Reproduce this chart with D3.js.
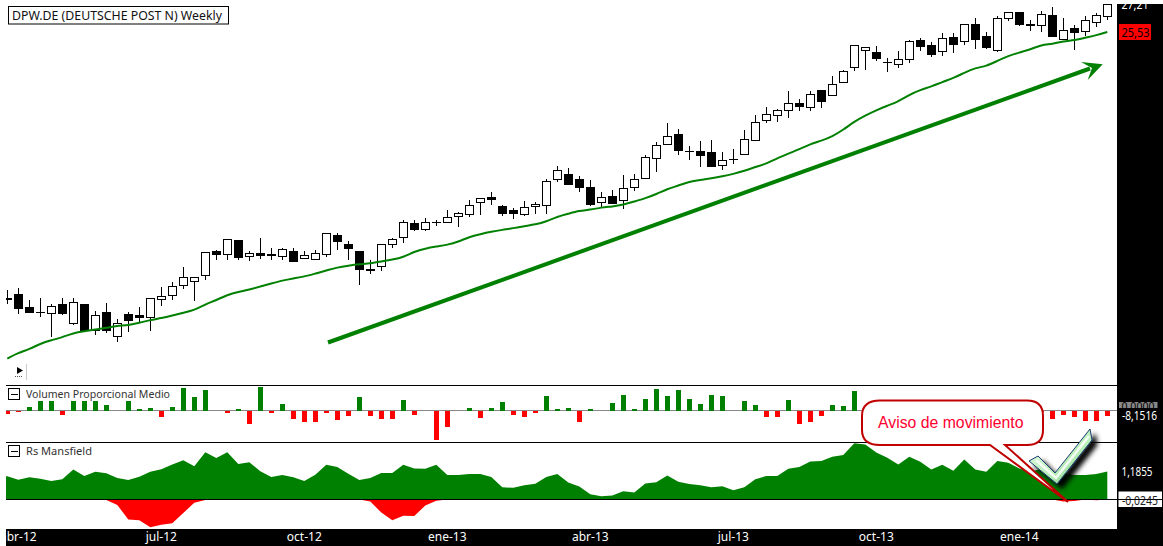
<!DOCTYPE html>
<html><head><meta charset="utf-8">
<script src="https://cdn.jsdelivr.net/npm/d3@7"></script>
<style>html,body{margin:0;padding:0;background:#fff}svg{display:block}text{font-family:"Noto Sans","DejaVu Sans",sans-serif}</style>
</head><body><svg id="c" width="1163" height="546"></svg>
<script>
const opens=[13.82,13.95,13.54,13.41,13.35,13.63,13.07,13.63,12.84,13.39,12.67,13.33,13.30,13.25,13.79,13.92,14.27,14.37,14.60,15.40,15.30,15.79,15.25,15.34,15.30,15.25,15.43,15.15,15.14,15.30,16.00,15.68,15.40,14.80,14.90,15.68,15.90,16.42,16.23,16.48,16.49,16.72,16.80,17.27,17.44,17.11,16.93,16.79,17.10,17.14,18.17,18.38,18.17,17.87,17.25,17.51,17.35,17.86,18.25,19.10,19.73,20.19,19.41,19.41,19.37,18.80,19.06,19.28,19.90,20.85,21.09,21.33,21.64,21.48,22.30,22.07,22.75,23.52,24.48,24.37,23.81,23.70,23.98,25.05,24.77,24.43,25.23,24.99,25.98,25.29,24.48,26.34,26.72,25.95,25.92,26.53,25.11,25.74,25.57,26.10,26.46];
const closes=[13.82,13.53,13.41,13.41,13.57,13.35,13.70,12.84,13.30,12.84,13.07,13.16,13.25,13.82,13.89,14.23,14.52,14.52,15.36,15.32,15.83,15.21,15.33,15.28,15.30,15.47,15.06,15.26,15.33,16.08,15.77,15.53,14.79,14.76,15.68,15.85,16.46,16.21,16.49,16.48,16.68,16.82,17.14,17.43,17.37,16.82,16.82,17.07,17.19,18.12,18.55,17.98,17.86,17.16,17.47,17.22,17.83,18.17,19.15,19.68,20.10,19.44,19.41,19.22,18.74,19.02,19.06,19.96,20.75,21.13,21.33,21.67,21.51,22.13,21.75,22.65,23.33,24.77,24.66,24.01,23.81,23.98,24.99,24.71,24.26,25.17,24.80,25.98,25.11,24.63,26.34,26.72,25.98,25.95,26.59,25.29,25.63,25.51,26.22,26.53,27.21];
const highs=[14.10,14.18,13.80,13.85,13.67,13.86,13.86,13.67,13.43,13.68,13.21,13.41,13.58,13.82,14.21,14.37,14.87,14.53,15.40,15.47,15.87,15.79,15.43,15.91,15.54,15.55,15.54,15.43,15.47,16.08,16.09,15.79,15.40,15.12,15.68,15.91,16.58,16.58,16.64,16.58,16.97,16.86,17.36,17.43,17.68,17.15,17.02,17.32,17.27,18.21,18.76,18.69,18.35,18.17,17.68,17.76,18.38,18.42,19.24,19.82,20.71,20.42,19.64,19.87,19.93,19.37,19.52,20.38,21.10,21.48,21.38,22.30,21.89,22.28,22.30,23.06,23.40,24.77,24.66,24.73,24.05,24.43,25.05,25.20,24.94,25.46,25.46,26.03,26.34,25.52,26.46,26.72,26.72,26.22,26.80,27.04,26.34,25.92,26.46,26.65,27.21];
const lows=[13.67,13.34,13.38,13.25,12.66,13.31,13.03,12.84,12.72,12.77,12.51,12.80,13.10,12.83,13.59,13.78,14.13,13.75,14.43,15.11,15.13,15.11,15.07,15.14,15.11,15.11,15.06,15.14,15.11,15.21,15.45,15.13,14.26,14.62,14.73,15.53,15.70,16.17,16.17,16.33,16.48,16.29,16.67,16.77,17.14,16.73,16.59,16.72,16.81,16.81,18.07,17.98,17.68,17.12,17.05,17.18,16.98,17.73,18.21,18.52,19.71,19.22,19.00,18.70,18.74,18.57,18.83,19.26,19.85,20.69,20.78,20.97,21.27,21.31,21.46,22.05,22.70,23.36,23.42,23.90,23.31,23.52,23.79,24.44,24.13,24.18,24.35,24.79,24.57,24.57,24.37,26.20,25.86,25.61,25.55,25.23,25.05,24.52,25.28,25.83,26.24];
const movingAvg=[12.05,12.21,12.31,12.47,12.57,12.65,12.78,12.83,12.88,12.93,12.99,13.01,13.08,13.17,13.22,13.30,13.39,13.47,13.65,13.78,13.95,14.05,14.12,14.22,14.32,14.42,14.49,14.55,14.65,14.75,14.86,14.92,14.97,14.99,15.06,15.13,15.21,15.41,15.52,15.59,15.65,15.76,15.94,16.04,16.13,16.20,16.26,16.34,16.40,16.51,16.70,16.81,16.93,16.96,17.06,17.09,17.16,17.29,17.42,17.58,17.80,17.93,18.10,18.17,18.24,18.32,18.42,18.55,18.72,18.86,19.10,19.30,19.50,19.73,19.88,20.08,20.39,20.78,21.07,21.33,21.55,21.76,22.10,22.35,22.52,22.76,22.96,23.25,23.51,23.60,23.89,24.17,24.35,24.52,24.79,24.83,25.00,25.05,25.20,25.34,25.53];
const volume=[-4,-2,5,14,14,-5.6,14,14,14,8.2,0,14,2,3.6,-8.7,5,34,20.4,31,0,-2.5,2,-19.4,35.7,-2.5,9.7,-11.7,-16.3,-16.3,-2.5,-13.3,-7.1,20.4,-7.1,-11.7,-11.7,15.8,-5.6,0,-43.9,-24,0,3.6,-10.2,3.6,12.8,-5.6,-8.7,-2.5,21.9,2,3.6,-16.3,2,0,11.2,23.5,2,17.3,32.6,21.9,31.1,17.3,9.7,23.5,21.9,0,14.3,8.2,-8.7,-8.7,15.8,-19.4,-16.3,-7.1,8.2,6.6,29.6,2,2,-2,-2,2,2,-2,-2,2,-2,2,2,-2,-2,2,2,-2,-11.7,-5.6,-8.7,-14.8,-14.8,-8.15];
const rsPositive=[.98,.84,.94,.88,.78,.86,1.27,.99,1.17,1.11,.91,.82,.96,1.18,1.28,1.48,1.66,1.41,2.00,1.76,2.00,1.50,1.58,1.20,.95,1.04,.94,.78,1.05,1.47,1.38,1.09,.82,.91,1.12,1.12,1.47,1.31,1.30,1.47,1.04,1.04,1.08,1.08,.95,.52,.49,.60,.66,.95,1.08,.72,.55,.22,.13,.17,.35,.29,.68,.73,1.02,.75,.65,.60,.52,.56,.39,.52,.86,.99,.99,1.30,1.38,1.61,1.63,1.81,1.89,2.39,2.33,1.99,1.77,1.48,1.81,1.60,1.27,1.47,1.22,1.70,1.27,1.17,1.63,1.56,1.31,1.17,1.30,1.08,1.12,1.04,1.04,1.08,1.1855];
const rsNegative=[0,0,0,0,0,0,0,0,0,-.03,-.24,-.85,-.89,-1.18,-1.08,-1.01,-.58,-.14,-.03,0,0,0,0,0,0,0,0,0,0,0,0,0,0,-.09,-.56,-.89,-.69,-.71,-.26,-.06,0,0,0,0,0,0,0,0,0,0,0,0,0,0,0,0,0,0,0,0,0,0,0,0,0,0,0,0,0,0,0,0,0,0,0,0,0,0,0,0,0,0,0,0,0,0,0,0,0,0,0,0,0,0,0,0,-.09,-.07,0,-.04,0];
const timeLabels=["abr-12","jul-12","oct-12","ene-13","abr-13","jul-13","oct-13","ene-14"];
const timeLabelBars=[1,14,27,40,53,66,79,92];
const title="DPW.DE (DEUTSCHE POST N) Weekly";

const svg=d3.select("#c");
const plotL=6,plotR=1117;
const ids=opens.map((_,i)=>i);
const x=d3.scaleLinear().domain([0,100]).range([7.3,1107.3]);
const yP=d3.scaleLog().domain([11.47,27.48]).range([380,0]);
const yV=d3.scaleLinear().domain([-8.1516,0]).range([415.9,410.5]);
const yR=d3.scaleLinear().domain([0,1.1855]).range([499.4,471.5]);
const green="#008000",red="#ff0000";
const defs=svg.append("defs");
defs.append("clipPath").attr("id","pc").append("rect").attr("x",plotL).attr("y",0).attr("width",plotR-plotL).attr("height",530);
defs.append("clipPath").attr("id","tc").append("rect").attr("x",plotL).attr("y",529).attr("width",1157).attr("height",17);
const shadow=defs.append("filter").attr("id","sh").attr("x","-30%").attr("y","-30%").attr("width","170%").attr("height","170%");
shadow.append("feGaussianBlur").attr("in","SourceAlpha").attr("stdDeviation",2.5).attr("result","b");
shadow.append("feOffset").attr("in","b").attr("dx",5).attr("dy",5).attr("result","o");
const fm=shadow.append("feMerge");fm.append("feMergeNode").attr("in","o");fm.append("feMergeNode").attr("in","SourceGraphic");
const cg=defs.append("linearGradient").attr("id","chk").attr("x1",0).attr("y1",0).attr("x2",1).attr("y2",1);
cg.append("stop").attr("offset",0).attr("stop-color","#e8fbe8");
cg.append("stop").attr("offset",.6).attr("stop-color","#b8eeb8");
cg.append("stop").attr("offset",1).attr("stop-color","#5cb868");

// frame panels
svg.append("rect").attr("x",plotR).attr("y",4).attr("width",46).attr("height",542).attr("fill","#000");
svg.append("rect").attr("x",plotL).attr("y",529).attr("width",1157).attr("height",17).attr("fill","#000");

const plot=svg.append("g").attr("clip-path","url(#pc)");
// candles
const c=plot.append("g").selectAll("g").data(ids).join("g").attr("shape-rendering","crispEdges");
c.append("line").attr("x1",i=>Math.round(x(i))+.5).attr("x2",i=>Math.round(x(i))+.5)
 .attr("y1",i=>yP(highs[i])).attr("y2",i=>yP(lows[i])).attr("stroke","#000").attr("stroke-width",1.4);
c.append("rect").attr("x",i=>Math.round(x(i))-3.5).attr("width",8)
 .attr("y",i=>yP(Math.max(opens[i],closes[i])))
 .attr("height",i=>Math.max(.6,Math.abs(yP(opens[i])-yP(closes[i]))))
 .attr("fill",i=>closes[i]<opens[i]?"#000":"#fff").attr("stroke","#000").attr("stroke-width",1);
// moving average
plot.append("path").datum(ids).attr("fill","none").attr("stroke",green).attr("stroke-width",2)
 .attr("d",d3.line().curve(d3.curveBasis).x(i=>x(i)).y(i=>yP(movingAvg[i])));

// panes
svg.append("rect").attr("x",plotL).attr("y",385).attr("width",plotR-plotL).attr("height",1).attr("fill","#000");
svg.append("rect").attr("x",plotL).attr("y",442).attr("width",plotR-plotL).attr("height",1).attr("fill","#000");
plot.append("rect").attr("x",plotL).attr("y",410).attr("width",plotR-plotL).attr("height",1).attr("fill","#888");
plot.append("g").selectAll("rect").data(ids.filter(i=>volume[i]!==0)).join("rect")
 .attr("x",i=>x(i)-2).attr("width",5)
 .attr("y",i=>volume[i]>0?yV(volume[i]):yV(0)+.5)
 .attr("height",i=>Math.abs(yV(volume[i])-yV(0)))
 .attr("fill",i=>volume[i]>0?green:red).attr("shape-rendering","crispEdges");
// Mansfield areas
plot.append("path").datum([0,...ids]).attr("fill",green).attr("d",d3.area().x((i,k)=>k===0?plotL:x(i)).y0(yR(0)).y1(i=>yR(rsPositive[i])));
plot.append("path").datum(ids).attr("fill",red).attr("d",d3.area().x(i=>x(i)).y0(yR(0)).y1(i=>yR(rsNegative[i])));

// time axis
const tA=svg.append("g").attr("fill","#fff").attr("font-size",12).attr("clip-path","url(#tc)");
tA.selectAll("text").data(timeLabels).join("text").attr("x",(d,k)=>x(timeLabelBars[k])).attr("y",541).attr("text-anchor","middle").text(d=>d);

// title
svg.append("rect").attr("x",8.5).attr("y",6.5).attr("width",220).attr("height",17.5).attr("fill","#fff").attr("stroke","#000");
svg.append("text").attr("x",12).attr("y",19.5).attr("font-size",12).attr("fill","#111").attr("textLength",210).attr("lengthAdjust","spacingAndGlyphs").text(title);

// pane headers
function hdr(y,t,w){
 svg.append("rect").attr("x",8.5).attr("y",y+.5).attr("width",11).attr("height",11).attr("fill","#fff").attr("stroke","#000");
 svg.append("line").attr("x1",11).attr("x2",18).attr("y1",y+6.5).attr("y2",y+6.5).attr("stroke","#000");
 svg.append("text").attr("x",26).attr("y",y+10).attr("font-size",11.5).attr("fill","#333").attr("textLength",w).attr("lengthAdjust","spacingAndGlyphs").text(t);
}
hdr(388,"Volumen Proporcional Medio",144);hdr(445,"Rs Mansfield",66);

// small play marker
svg.append("path").attr("d","M17 367 L23 370.5 L17 374 Z").attr("fill","#000");
svg.append("line").attr("x1",15).attr("x2",23).attr("y1",376.5).attr("y2",376.5).attr("stroke","#555").attr("stroke-dasharray","1 1");
svg.append("line").attr("x1",26.5).attr("x2",26.5).attr("y1",364).attr("y2",380).attr("stroke","#ccc");

// big trend arrow
svg.append("line").attr("x1",328).attr("y1",342.5).attr("x2",1090).attr("y2",68.5).attr("stroke",green).attr("stroke-width",4);
svg.append("path").attr("d","M1081 62 L1102.7 64.3 L1087.7 80 L1092 68 Z").attr("fill",green);

// zero line runs into the right panel, under the value box
const R=svg.append("g").attr("font-size",12);
function lab(t,yy,fill,w){R.append("text").attr("x",t[0]==="-"?1122:1121.5).attr("y",yy).attr("fill",fill).attr("textLength",w).attr("lengthAdjust","spacingAndGlyphs").text(t);}
lab("27,21",8.5,"#fff",27);
svg.append("rect").attr("x",1117).attr("y",0).attr("width",46).attr("height",4).attr("fill","#fff");
R.append("rect").attr("x",1119).attr("y",24).attr("width",32).attr("height",16).attr("fill",red);
lab("25,53",36.5,"#000",28);
R.append("rect").attr("x",1119).attr("y",402).attr("width",38.5).attr("height",6).attr("fill","#888");
lab("0,0000",411,"#000",33);
lab("-8,1516",420,"#fff",35);
lab("1,1855",475.5,"#fff",31);
R.append("rect").attr("x",1118.5).attr("y",491.5).attr("width",43.5).attr("height",15.5).attr("fill","#fff");
lab("-0,0245",504.5,"#222",36);
svg.append("line").attr("x1",plotL).attr("x2",1162).attr("y1",499.5).attr("y2",499.5).attr("stroke","#000");

// callout
svg.append("path").attr("d","M880 400.5 H1027 Q1043 400.5 1043 416 V430 Q1043 445 1027 445 H1005 L1068 502 L990 445 H880 Q862 445 862 430 V416 Q862 400.5 880 400.5 Z")
 .attr("fill","#fff").attr("stroke","#c00000").attr("stroke-width",2);
svg.append("text").style("font-family","Liberation Sans").attr("x",878).attr("y",428).attr("font-size",15.8).attr("fill","#ff0030").text("Aviso de movimiento");

// check mark
svg.append("path").attr("d","M1029 461 L1038 456 L1055 473 L1090 429 L1092 440 L1057 484 Z")
 .attr("fill","url(#chk)").attr("stroke","#1c3a70").attr("stroke-width",1).attr("filter","url(#sh)");
svg.append("path").attr("d","M1036 460 L1056 478 L1089 436").attr("fill","none").attr("stroke","#fff").attr("stroke-width",2.5).attr("stroke-opacity",.85);
</script></body></html>
